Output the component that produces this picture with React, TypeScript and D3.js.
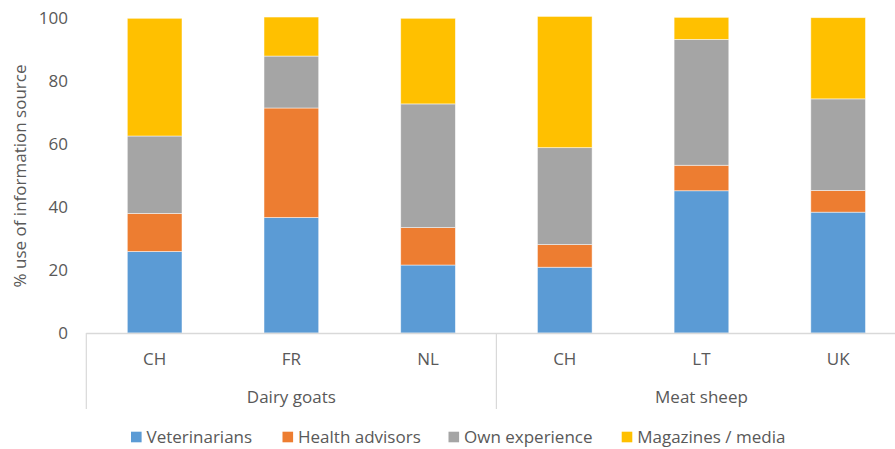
import React from "react";
import * as d3 from "d3";

const groups = ["Dairy goats", "Meat sheep"];
const categories = ["CH", "FR", "NL", "CH", "LT", "UK"];
const categoryGroup = [0, 0, 0, 1, 1, 1];
const seriesNames = ["Veterinarians", "Health advisors", "Own experience", "Magazines / media"];
const veterinarians = [25.9, 36.7, 21.6, 20.9, 45.2, 38.4];
const healthAdvisors = [12.1, 34.8, 11.9, 7.2, 8.1, 6.9];
const ownExperience = [24.6, 16.5, 39.3, 30.8, 40.0, 29.1];
const magazinesMedia = [37.4, 12.4, 27.2, 41.7, 7.0, 25.8];
const yTicks = [0, 20, 40, 60, 80, 100];
const colors = ["#5B9BD5", "#ED7D31", "#A5A5A5", "#FFC000"];

const W = 895;
const H = 449;
const FONT = "'Open Sans', sans-serif";
const FS = 17;

export default function App() {
  const left = 86.3;
  const right = 906.5;
  const y0 = 333;
  const yTop = 18.3;
  const x = d3.scaleBand<number>().domain(d3.range(categories.length)).range([left, right]).paddingInner(0.6).paddingOuter(0.3);
  const y = d3.scaleLinear().domain([0, 100]).range([y0, yTop]);
  const rows = categories.map((c, i) => ({
    i,
    v0: veterinarians[i],
    v1: healthAdvisors[i],
    v2: ownExperience[i],
    v3: magazinesMedia[i],
  }));
  const stack = d3.stack<any>().keys(["v0", "v1", "v2", "v3"]);
  const layers = stack(rows);
  const step = (right - left) / categories.length;
  const sepX = [0, 3, 6].map((k) => left + k * step);
  const legendX = [131, 282.5, 448.5, 621.7];

  return (
    <svg width={W} height={H} style={{ position: "absolute", left: 0, top: 0 }} fontFamily={FONT}>
      <rect width={W} height={H} fill="#fff" />
      {layers.map((layer, si) =>
        layer.map((d, ci) => (
          <rect
            key={`${si}-${ci}`}
            x={x(ci)}
            width={x.bandwidth()}
            y={y(d[1])}
            height={y(d[0]) - y(d[1])}
            fill={colors[si]}
            stroke="#fff"
            strokeOpacity={0.6}
            strokeWidth={0.8}
          />
        ))
      )}
      <line x1={left} x2={right} y1={y0 + 0.5} y2={y0 + 0.5} stroke="#D9D9D9" strokeWidth={1.5} />
      {sepX.map((sx, k) => (
        <line key={k} x1={sx} x2={sx} y1={y0} y2={409} stroke="#D9D9D9" strokeWidth={1.2} />
      ))}
      {yTicks.map((t) => (
        <text key={t} x={68} y={y(t)} dy="0.35em" textAnchor="end" fontSize={FS} fill="#595959">
          {t}
        </text>
      ))}
      <text
        transform={`translate(20,176) rotate(-90)`}
        textAnchor="middle"
        dy="0.35em"
        fontSize={FS}
        fill="#595959"
      >
        % use of information source
      </text>
      {categories.map((c, i) => (
        <text key={i} x={x(i)! + x.bandwidth() / 2} y={359} dy="0.35em" textAnchor="middle" fontSize={FS} fill="#595959">
          {c}
        </text>
      ))}
      {groups.map((g, gi) => {
        const idx = categoryGroup.map((v, i) => (v === gi ? i : -1)).filter((i) => i >= 0);
        const cx = (x(idx[0])! + x(idx[idx.length - 1])! + x.bandwidth()) / 2;
        return (
          <text key={g} x={cx} y={397} dy="0.35em" textAnchor="middle" fontSize={FS} fill="#595959">
            {g}
          </text>
        );
      })}
      {seriesNames.map((s, si) => (
        <g key={s} transform={`translate(${legendX[si]},437)`}>
          <rect x={0} y={-5.3} width={10.6} height={10.6} fill={colors[si]} />
          <text x={15.5} y={0} dy="0.35em" fontSize={FS} fill="#595959">
            {s}
          </text>
        </g>
      ))}
    </svg>
  );
}
